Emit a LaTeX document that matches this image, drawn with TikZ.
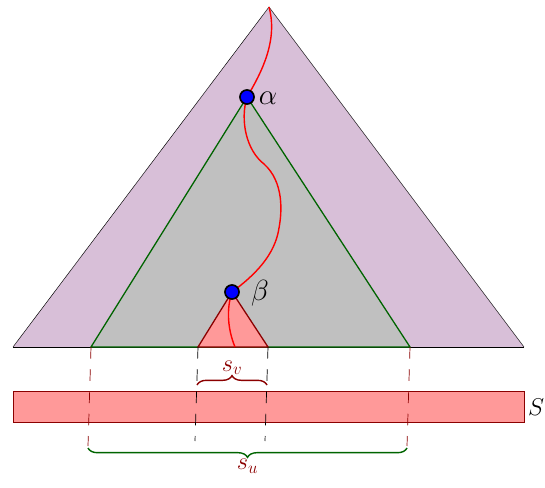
\documentclass[tikz,border=0pt]{standalone}
\usepackage{amsmath, amssymb}
\usepackage{tikz}
\usetikzlibrary{decorations.pathreplacing, calc}
\usepackage{xcolor}
\definecolor{treepurple}{RGB}{216,191,216}
\definecolor{subgray}{RGB}{192,192,192}
\definecolor{darkred}{RGB}{139,0,0}
\definecolor{darkgreen}{RGB}{0,100,0}

\begin{document}
\begin{tikzpicture}[x=0.03cm, y=-0.03cm,
  every node/.style={font=\Huge},
  vertex/.style={circle, draw=black, line width=1.4pt, fill=blue, inner sep=0pt, minimum size=12pt},
  guide/.style={dashed, dash pattern=on 10pt off 9pt, line width=0.6pt},
  bracestyle/.style={decorate, decoration={brace, amplitude=8pt}, line width=1.2pt}]
  \useasboundingbox (0,0) rectangle (545,487);
  % outer tree
  \coordinate (root) at (269,7);
  \coordinate (L) at (13,347);
  \coordinate (R) at (524,347);
  \fill[treepurple] (root) -- (L) -- (R) -- cycle;
  \draw[black, thin] (L) -- (root) -- (R);
  \draw[black, thin] (L) -- (R);
  % subtree of alpha
  \coordinate (apos) at (247,97);
  \coordinate (uL) at (91,347);
  \coordinate (uR) at (410,347);
  \fill[subgray] (apos) -- (uL) -- (uR) -- cycle;
  \draw[darkgreen, line width=1.1pt] (apos) -- (uL) -- (uR) -- cycle;
  % subtree of beta
  \coordinate (bpos) at (232,292);
  \coordinate (vL) at (198,347);
  \coordinate (vR) at (268,347);
  \fill[red!40] (bpos) -- (vL) -- (vR) -- cycle;
  \draw[darkred, line width=1.1pt] (bpos) -- (vL) -- (vR) -- cycle;
  % path
  \coordinate (leaf) at (235,347);
  \draw[red, line width=1.2pt] (root) .. controls (278,40) and (262,72) .. (apos)
    .. controls (240,120) and (246,150) .. (264,164)
    .. controls (284,182) and (282,212) .. (279,228)
    .. controls (275,255) and (255,275) .. (bpos)
    .. controls (226,310) and (228,330) .. (leaf);
  \node[vertex] (alpha) at (apos) {};
  \node[vertex] (beta) at (bpos) {};
  \node (alabel) at (268,98) {$\alpha$};
  \node (blabel) at (260,293) {$\beta$};
  % the set S
  \node[draw=darkred, fill=red!40, minimum width=511*0.03cm, minimum height=31*0.03cm, inner sep=0pt, anchor=north west] (S) at (13,391) {};
  \node[anchor=west, inner sep=1pt, font=\huge] (Slabel) at ([xshift=2pt]S.east) {$S$};
  % guides
  \coordinate (uLb) at (88,446);
  \coordinate (uRb) at (407,446);
  \coordinate (vLb) at (195,441);
  \coordinate (vRb) at (265,441);
  \draw[darkred, guide] (uL) -- (uLb);
  \draw[darkred, guide] (uR) -- (uRb);
  \draw[black, guide] (vL) -- (vLb);
  \draw[black, guide] (vR) -- (vRb);
  % braces
  \draw[darkred, bracestyle] (197,385) -- node[above=8pt, inner sep=0pt, text=darkred, font=\huge] (sv) {$s_v$} (267,385);
  \draw[darkgreen, bracestyle] (407,448) -- node[below=9pt, inner sep=0pt, text=darkred, font=\huge] (su) {$s_u$} (88,448);
\end{tikzpicture}
\end{document}
